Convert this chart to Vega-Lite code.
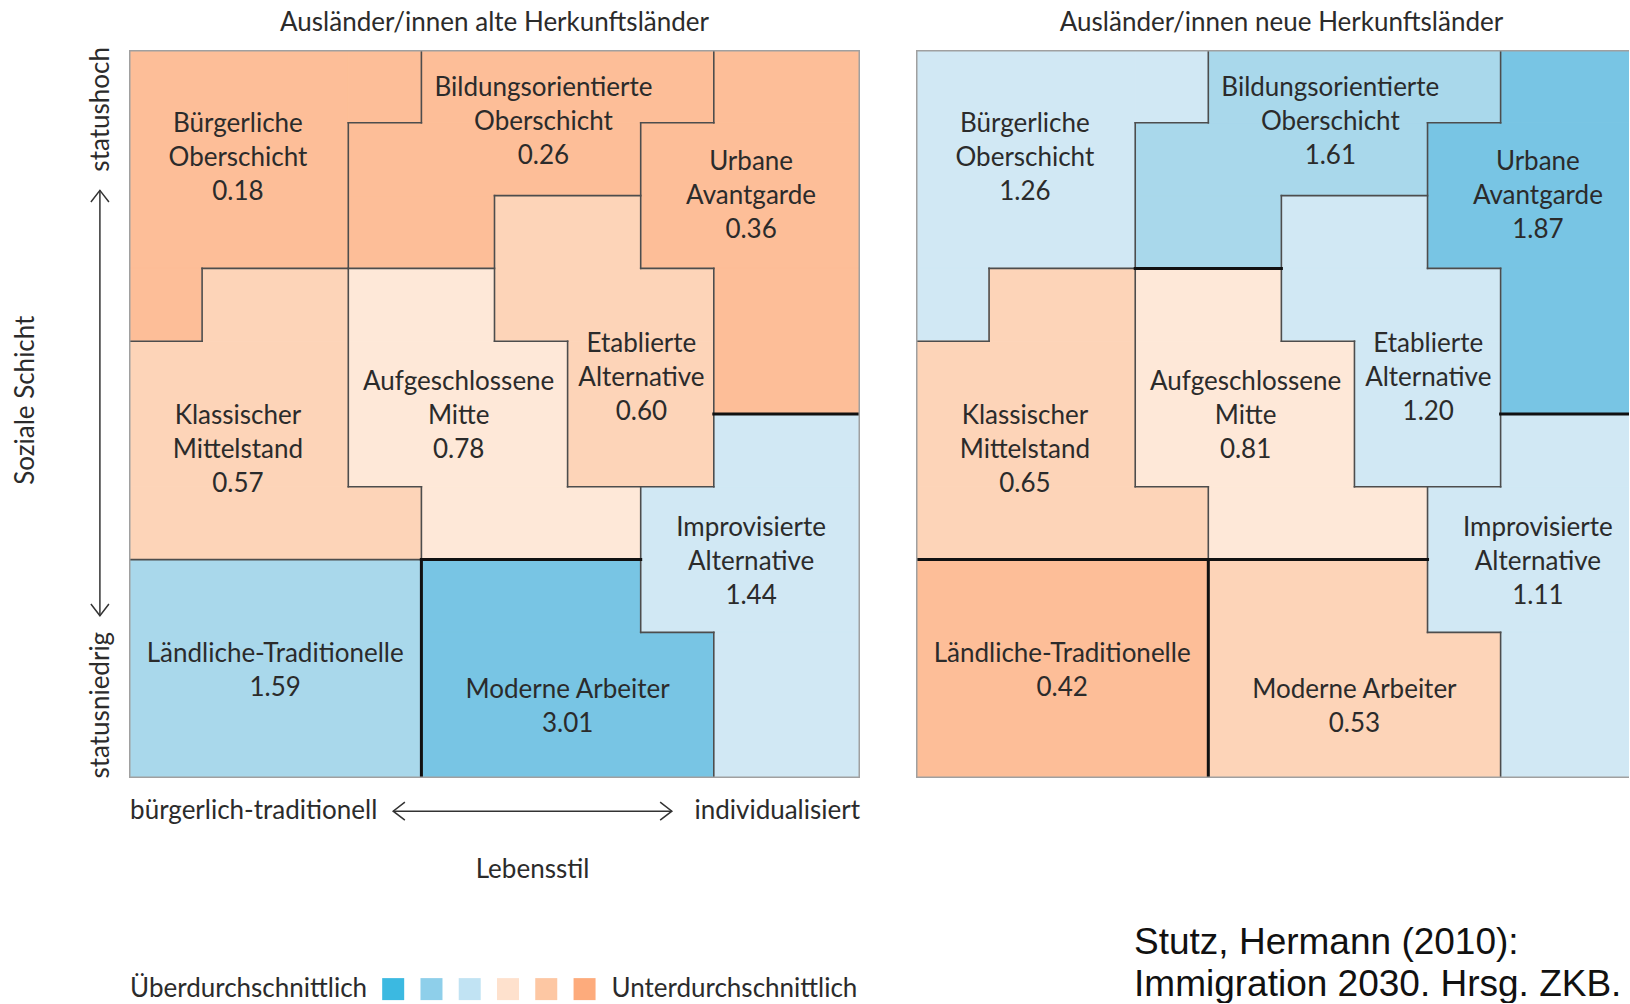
{
  "$schema": "https://vega.github.io/schema/vega-lite/v6.json",
  "background": "white",
  "autosize": {"type": "pad"},
  "padding": {"left": 13, "top": 10, "right": 0, "bottom": 0},
  "spacing": 56,
  "config": {"view": {"stroke": null}},
  "datasets": {
    "pieces": [
      {"milieu": "Bürgerliche Oberschicht", "x": 0, "x2": 3, "y": 0, "y2": 3},
      {"milieu": "Bürgerliche Oberschicht", "x": 3, "x2": 4, "y": 0, "y2": 1},
      {"milieu": "Bürgerliche Oberschicht", "x": 0, "x2": 1, "y": 3, "y2": 4},
      {"milieu": "Bildungsorientierte Oberschicht", "x": 4, "x2": 8, "y": 0, "y2": 1},
      {"milieu": "Bildungsorientierte Oberschicht", "x": 3, "x2": 7, "y": 1, "y2": 2},
      {"milieu": "Bildungsorientierte Oberschicht", "x": 3, "x2": 5, "y": 2, "y2": 3},
      {"milieu": "Urbane Avantgarde", "x": 8, "x2": 10, "y": 0, "y2": 1},
      {"milieu": "Urbane Avantgarde", "x": 7, "x2": 10, "y": 1, "y2": 3},
      {"milieu": "Urbane Avantgarde", "x": 8, "x2": 10, "y": 3, "y2": 5},
      {"milieu": "Etablierte Alternative", "x": 5, "x2": 7, "y": 2, "y2": 3},
      {"milieu": "Etablierte Alternative", "x": 5, "x2": 8, "y": 3, "y2": 4},
      {"milieu": "Etablierte Alternative", "x": 6, "x2": 8, "y": 4, "y2": 6},
      {"milieu": "Aufgeschlossene Mitte", "x": 3, "x2": 5, "y": 3, "y2": 4},
      {"milieu": "Aufgeschlossene Mitte", "x": 3, "x2": 6, "y": 4, "y2": 6},
      {"milieu": "Aufgeschlossene Mitte", "x": 4, "x2": 7, "y": 6, "y2": 7},
      {"milieu": "Klassischer Mittelstand", "x": 1, "x2": 3, "y": 3, "y2": 4},
      {"milieu": "Klassischer Mittelstand", "x": 0, "x2": 3, "y": 4, "y2": 6},
      {"milieu": "Klassischer Mittelstand", "x": 0, "x2": 4, "y": 6, "y2": 7},
      {"milieu": "Ländliche-Traditionelle", "x": 0, "x2": 4, "y": 7, "y2": 10},
      {"milieu": "Moderne Arbeiter", "x": 4, "x2": 7, "y": 7, "y2": 8},
      {"milieu": "Moderne Arbeiter", "x": 4, "x2": 8, "y": 8, "y2": 10},
      {"milieu": "Improvisierte Alternative", "x": 8, "x2": 10, "y": 5, "y2": 6},
      {"milieu": "Improvisierte Alternative", "x": 7, "x2": 10, "y": 6, "y2": 8},
      {"milieu": "Improvisierte Alternative", "x": 8, "x2": 10, "y": 8, "y2": 10}
    ],
    "labelpos": [
      {"milieu": "Bürgerliche Oberschicht", "x": 1.49, "y": 1.023},
      {"milieu": "Bildungsorientierte Oberschicht", "x": 5.67, "y": 0.523},
      {"milieu": "Urbane Avantgarde", "x": 8.51, "y": 1.543},
      {"milieu": "Etablierte Alternative", "x": 7.01, "y": 4.043},
      {"milieu": "Aufgeschlossene Mitte", "x": 4.51, "y": 4.563},
      {"milieu": "Klassischer Mittelstand", "x": 1.49, "y": 5.033},
      {"milieu": "Ländliche-Traditionelle", "x": 2.0, "y": 8.297},
      {"milieu": "Moderne Arbeiter", "x": 6.0, "y": 8.797},
      {"milieu": "Improvisierte Alternative", "x": 8.51, "y": 6.563}
    ],
    "alt": [
      {"milieu": "Bürgerliche Oberschicht", "value": 0.18, "lines": ["Bürgerliche", "Oberschicht", "0.18"]},
      {"milieu": "Bildungsorientierte Oberschicht", "value": 0.26, "lines": ["Bildungsorientierte", "Oberschicht", "0.26"]},
      {"milieu": "Urbane Avantgarde", "value": 0.36, "lines": ["Urbane", "Avantgarde", "0.36"]},
      {"milieu": "Etablierte Alternative", "value": 0.60, "lines": ["Etablierte", "Alternative", "0.60"]},
      {"milieu": "Aufgeschlossene Mitte", "value": 0.78, "lines": ["Aufgeschlossene", "Mitte", "0.78"]},
      {"milieu": "Klassischer Mittelstand", "value": 0.57, "lines": ["Klassischer", "Mittelstand", "0.57"]},
      {"milieu": "Ländliche-Traditionelle", "value": 1.59, "lines": ["Ländliche-Traditionelle", "1.59"]},
      {"milieu": "Moderne Arbeiter", "value": 3.01, "lines": ["Moderne Arbeiter", "3.01"]},
      {"milieu": "Improvisierte Alternative", "value": 1.44, "lines": ["Improvisierte", "Alternative", "1.44"]}
    ],
    "neu": [
      {"milieu": "Bürgerliche Oberschicht", "value": 1.26, "lines": ["Bürgerliche", "Oberschicht", "1.26"]},
      {"milieu": "Bildungsorientierte Oberschicht", "value": 1.61, "lines": ["Bildungsorientierte", "Oberschicht", "1.61"]},
      {"milieu": "Urbane Avantgarde", "value": 1.87, "lines": ["Urbane", "Avantgarde", "1.87"]},
      {"milieu": "Etablierte Alternative", "value": 1.20, "lines": ["Etablierte", "Alternative", "1.20"]},
      {"milieu": "Aufgeschlossene Mitte", "value": 0.81, "lines": ["Aufgeschlossene", "Mitte", "0.81"]},
      {"milieu": "Klassischer Mittelstand", "value": 0.65, "lines": ["Klassischer", "Mittelstand", "0.65"]},
      {"milieu": "Ländliche-Traditionelle", "value": 0.42, "lines": ["Ländliche-Traditionelle", "0.42"]},
      {"milieu": "Moderne Arbeiter", "value": 0.53, "lines": ["Moderne Arbeiter", "0.53"]},
      {"milieu": "Improvisierte Alternative", "value": 1.11, "lines": ["Improvisierte", "Alternative", "1.11"]}
    ],
    "edges": [
      {"x": 4, "x2": 4, "y": 0, "y2": 1},
      {"x": 3, "x2": 4, "y": 1, "y2": 1},
      {"x": 3, "x2": 3, "y": 1, "y2": 6},
      {"x": 1, "x2": 3, "y": 3, "y2": 3},
      {"x": 1, "x2": 1, "y": 3, "y2": 4},
      {"x": 0, "x2": 1, "y": 4, "y2": 4},
      {"x": 8, "x2": 8, "y": 0, "y2": 1},
      {"x": 7, "x2": 8, "y": 1, "y2": 1},
      {"x": 7, "x2": 7, "y": 1, "y2": 3},
      {"x": 5, "x2": 7, "y": 2, "y2": 2},
      {"x": 5, "x2": 5, "y": 2, "y2": 4},
      {"x": 3, "x2": 5, "y": 3, "y2": 3},
      {"x": 7, "x2": 8, "y": 3, "y2": 3},
      {"x": 8, "x2": 8, "y": 3, "y2": 6},
      {"x": 5, "x2": 6, "y": 4, "y2": 4},
      {"x": 6, "x2": 6, "y": 4, "y2": 6},
      {"x": 6, "x2": 8, "y": 6, "y2": 6},
      {"x": 8, "x2": 10, "y": 5, "y2": 5},
      {"x": 3, "x2": 4, "y": 6, "y2": 6},
      {"x": 4, "x2": 4, "y": 6, "y2": 10},
      {"x": 0, "x2": 7, "y": 7, "y2": 7},
      {"x": 7, "x2": 7, "y": 6, "y2": 8},
      {"x": 7, "x2": 8, "y": 8, "y2": 8},
      {"x": 8, "x2": 8, "y": 8, "y2": 10}
    ],
    "frame": [
      {"x": 0, "x2": 10, "y": 0, "y2": 0},
      {"x": 0, "x2": 10, "y": 10, "y2": 10},
      {"x": 0, "x2": 0, "y": 0, "y2": 10},
      {"x": 10, "x2": 10, "y": 0, "y2": 10}
    ]
  },
  "hconcat": [
    {
      "width": 731,
      "height": 728,
      "title": {"text": "Ausländer/innen alte Herkunftsländer", "font": "Lato", "fontSize": 26, "fontWeight": "normal", "color": "#2b2b2b", "anchor": "middle", "baseline": "bottom", "offset": -15, "frame": "group"},
      "encoding": {
        "x": {"field": "x", "type": "quantitative", "scale": {"domain": [0, 10], "nice": false, "zero": false}, "axis": null},
        "y": {"field": "y", "type": "quantitative", "scale": {"domain": [0, 10], "nice": false, "zero": false, "reverse": true}, "axis": null}
      },
      "layer": [
        {
          "data": {"name": "pieces"},
          "transform": [{"lookup": "milieu", "from": {"data": {"name": "alt"}, "key": "milieu", "fields": ["value"]}}],
          "mark": {"type": "rect", "strokeWidth": 1, "clip": true},
          "encoding": {
            "x2": {"field": "x2"},
            "y2": {"field": "y2"},
            "fill": {"field": "value", "type": "quantitative", "scale": {"type": "threshold", "domain": [0.5, 0.75, 1, 1.5, 1.75], "range": ["#fdbe98", "#fdd4b8", "#fee8d8", "#d1e8f4", "#a9d8eb", "#78c5e4"]}, "legend": null},
            "stroke": {"field": "value", "type": "quantitative", "scale": {"type": "threshold", "domain": [0.5, 0.75, 1, 1.5, 1.75], "range": ["#fdbe98", "#fdd4b8", "#fee8d8", "#d1e8f4", "#a9d8eb", "#78c5e4"]}, "legend": null}
          }
        },
        {
          "data": {"name": "edges"},
          "mark": {"type": "rule", "color": "#4d4d4d", "strokeWidth": 1.6, "strokeCap": "square", "clip": true},
          "encoding": {"x2": {"field": "x2"}, "y2": {"field": "y2"}}
        },
        {
          "data": {"values": [
            {"x": 4, "x2": 7, "y": 7, "y2": 7},
            {"x": 4, "x2": 4, "y": 7, "y2": 10},
            {"x": 8, "x2": 10, "y": 5, "y2": 5}
          ]},
          "mark": {"type": "rule", "color": "#111111", "strokeWidth": 3, "strokeCap": "square", "clip": true},
          "encoding": {"x2": {"field": "x2"}, "y2": {"field": "y2"}}
        },
        {
          "data": {"name": "frame"},
          "mark": {"type": "rule", "color": "#a0a0a0", "strokeWidth": 3, "clip": true},
          "encoding": {"x2": {"field": "x2"}, "y2": {"field": "y2"}}
        },
        {
          "data": {"name": "alt"},
          "transform": [{"lookup": "milieu", "from": {"data": {"name": "labelpos"}, "key": "milieu", "fields": ["x", "y"]}}],
          "mark": {"type": "text", "font": "Lato", "fontSize": 26, "lineHeight": 34, "align": "center", "baseline": "middle", "color": "#2b2b2b"},
          "encoding": {"text": {"field": "lines", "type": "nominal"}}
        },
        {
          "data": {"values": [{"label": "Lebensstil", "x": 5.52, "y": 11.265}]},
          "mark": {"type": "text", "font": "Lato", "fontSize": 26, "align": "center", "baseline": "middle", "color": "#2b2b2b"},
          "encoding": {"text": {"field": "label", "type": "nominal"}}
        },
        {
          "data": {"values": [
            {"label": "bürgerlich-traditionell", "x": 0.015, "y": 10.456},
            {"label": "Überdurchschnittlich", "x": 0.015, "y": 12.9},
            {"label": "Unterdurchschnittlich", "x": 6.6, "y": 12.9}
          ]},
          "mark": {"type": "text", "font": "Lato", "fontSize": 26, "align": "left", "baseline": "middle", "color": "#2b2b2b"},
          "encoding": {"text": {"field": "label", "type": "nominal"}}
        },
        {
          "data": {"values": [{"label": "individualisiert", "x": 10, "y": 10.456}]},
          "mark": {"type": "text", "font": "Lato", "fontSize": 26, "align": "right", "baseline": "middle", "color": "#2b2b2b"},
          "encoding": {"text": {"field": "label", "type": "nominal"}}
        },
        {
          "data": {"values": [
            {"label": "Soziale Schicht", "x": -1.408, "y": 4.81},
            {"label": "statushoch", "x": -0.384, "y": 0.815},
            {"label": "statusniedrig", "x": -0.384, "y": 9.0}
          ]},
          "mark": {"type": "text", "font": "Lato", "fontSize": 26, "align": "center", "baseline": "middle", "angle": 270, "color": "#2b2b2b"},
          "encoding": {"text": {"field": "label", "type": "nominal"}}
        },
        {
          "data": {"values": [
            {"x": -0.398, "x2": -0.398, "y": 1.928, "y2": 7.77},
            {"x": 3.614, "x2": 7.426, "y": 10.456, "y2": 10.456}
          ]},
          "mark": {"type": "rule", "color": "#333333", "strokeWidth": 1.5},
          "encoding": {"x2": {"field": "x2"}, "y2": {"field": "y2"}}
        },
        {
          "data": {"values": [
            {"dir": "up", "x": -0.398, "y": 1.928},
            {"dir": "down", "x": -0.398, "y": 7.77},
            {"dir": "left", "x": 3.614, "y": 10.456},
            {"dir": "right", "x": 7.426, "y": 10.456}
          ]},
          "mark": {"type": "point", "filled": false, "color": "#333333", "strokeWidth": 1.5, "size": 324, "opacity": 1},
          "encoding": {
            "shape": {"field": "dir", "type": "nominal", "scale": {"domain": ["up", "down", "left", "right"], "range": ["M-1,1.3L0,0L1,1.3", "M-1,-1.3L0,0L1,-1.3", "M1.3,-1L0,0L1.3,1", "M-1.3,-1L0,0L-1.3,1"]}, "legend": null}
          }
        },
        {
          "data": {"values": [
            {"klasse": 1, "x": 3.614, "y": 12.9},
            {"klasse": 2, "x": 4.138, "y": 12.9},
            {"klasse": 3, "x": 4.661, "y": 12.9},
            {"klasse": 4, "x": 5.185, "y": 12.9},
            {"klasse": 5, "x": 5.708, "y": 12.9},
            {"klasse": 6, "x": 6.232, "y": 12.9}
          ]},
          "mark": {"type": "square", "size": 484, "opacity": 1},
          "encoding": {
            "color": {"field": "klasse", "type": "ordinal", "scale": {"domain": [1, 2, 3, 4, 5, 6], "range": ["#3bb9e1", "#8ecfea", "#c1e3f3", "#fee1cd", "#fdc7a3", "#fdab7c"]}, "legend": null}
          }
        }
      ]
    },
    {
      "width": 713,
      "height": 728,
      "title": {"text": "Ausländer/innen neue Herkunftsländer", "font": "Lato", "fontSize": 26, "fontWeight": "normal", "color": "#2b2b2b", "anchor": "middle", "baseline": "bottom", "offset": -12, "dx": 9, "frame": "group"},
      "encoding": {
        "x": {"field": "x", "type": "quantitative", "scale": {"domain": [0, 9.757], "nice": false, "zero": false}, "axis": null},
        "y": {"field": "y", "type": "quantitative", "scale": {"domain": [0, 10], "nice": false, "zero": false, "reverse": true}, "axis": null}
      },
      "layer": [
        {
          "data": {"name": "pieces"},
          "transform": [{"lookup": "milieu", "from": {"data": {"name": "neu"}, "key": "milieu", "fields": ["value"]}}],
          "mark": {"type": "rect", "strokeWidth": 1, "clip": true},
          "encoding": {
            "x2": {"field": "x2"},
            "y2": {"field": "y2"},
            "fill": {"field": "value", "type": "quantitative", "scale": {"type": "threshold", "domain": [0.5, 0.75, 1, 1.5, 1.75], "range": ["#fdbe98", "#fdd4b8", "#fee8d8", "#d1e8f4", "#a9d8eb", "#78c5e4"]}, "legend": null},
            "stroke": {"field": "value", "type": "quantitative", "scale": {"type": "threshold", "domain": [0.5, 0.75, 1, 1.5, 1.75], "range": ["#fdbe98", "#fdd4b8", "#fee8d8", "#d1e8f4", "#a9d8eb", "#78c5e4"]}, "legend": null}
          }
        },
        {
          "data": {"name": "edges"},
          "mark": {"type": "rule", "color": "#4d4d4d", "strokeWidth": 1.6, "strokeCap": "square", "clip": true},
          "encoding": {"x2": {"field": "x2"}, "y2": {"field": "y2"}}
        },
        {
          "data": {"values": [
            {"x": 3, "x2": 5, "y": 3, "y2": 3},
            {"x": 0, "x2": 7, "y": 7, "y2": 7},
            {"x": 4, "x2": 4, "y": 7, "y2": 10},
            {"x": 8, "x2": 10, "y": 5, "y2": 5}
          ]},
          "mark": {"type": "rule", "color": "#111111", "strokeWidth": 3, "strokeCap": "square", "clip": true},
          "encoding": {"x2": {"field": "x2"}, "y2": {"field": "y2"}}
        },
        {
          "data": {"name": "frame"},
          "mark": {"type": "rule", "color": "#a0a0a0", "strokeWidth": 3, "clip": true},
          "encoding": {"x2": {"field": "x2"}, "y2": {"field": "y2"}}
        },
        {
          "data": {"name": "neu"},
          "transform": [{"lookup": "milieu", "from": {"data": {"name": "labelpos"}, "key": "milieu", "fields": ["x", "y"]}}],
          "mark": {"type": "text", "font": "Lato", "fontSize": 26, "lineHeight": 34, "align": "center", "baseline": "middle", "color": "#2b2b2b"},
          "encoding": {"text": {"field": "lines", "type": "nominal"}}
        },
        {
          "data": {"values": [
            {"label": "Stutz, Hermann (2010):", "x": 2.984, "y": 12.26},
            {"label": "Immigration 2030. Hrsg. ZKB.", "x": 2.984, "y": 12.84}
          ]},
          "mark": {"type": "text", "font": "Liberation Sans", "fontSize": 37, "align": "left", "baseline": "middle", "color": "#111111"},
          "encoding": {"text": {"field": "label", "type": "nominal"}}
        }
      ]
    }
  ]
}
